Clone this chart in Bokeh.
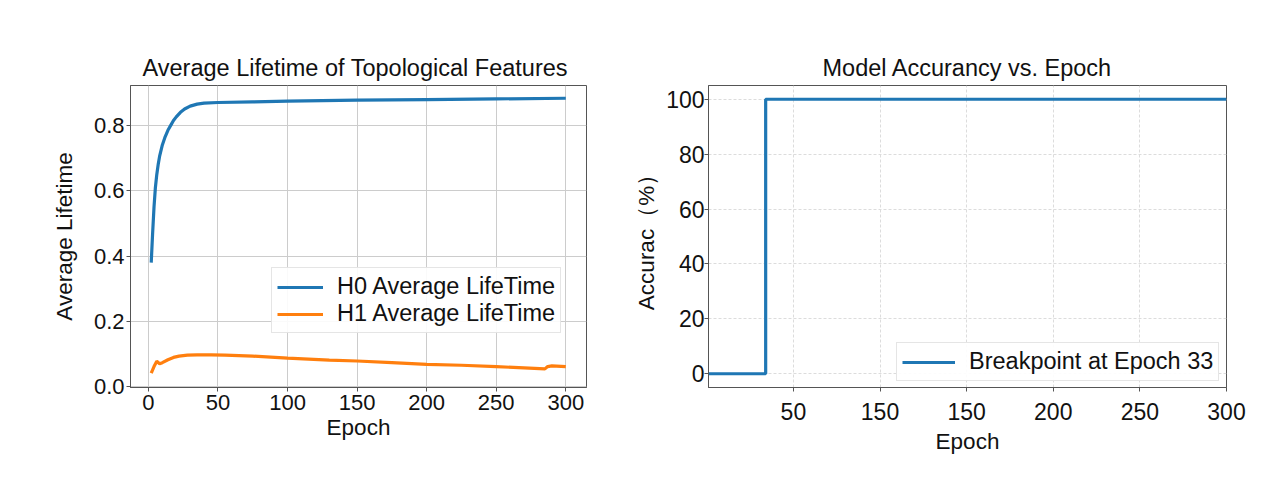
from bokeh.plotting import figure
from bokeh.layouts import row
from bokeh.models import Range1d, FixedTicker, Legend, LegendItem
from bokeh.embed import file_html
from bokeh.resources import INLINE

# ---------------- data ----------------
h0_epochs = [2, 3, 4, 5, 6, 7, 8, 10, 12, 14, 16, 18, 20, 23, 26, 30, 35, 40, 50, 75, 100, 150, 200, 250, 300]
h0_values = [0.38, 0.47, 0.55, 0.61, 0.65, 0.68, 0.705, 0.74, 0.765, 0.785, 0.80, 0.815, 0.826, 0.840, 0.850,
             0.859, 0.865, 0.868, 0.870, 0.872, 0.874, 0.877, 0.879, 0.881, 0.883]

h1_epochs = [2, 4, 6, 8, 10, 14, 18, 22, 28, 35, 45, 55, 75, 100, 130, 150, 175, 200, 225, 250, 270, 285, 287, 290, 300]
h1_values = [0.042, 0.062, 0.078, 0.071, 0.074, 0.083, 0.090, 0.094, 0.097, 0.098, 0.098, 0.097, 0.094, 0.088,
             0.082, 0.079, 0.074, 0.069, 0.066, 0.062, 0.058, 0.055, 0.062, 0.064, 0.062]

acc_epochs = [1, 33, 34, 300]
acc_values = [0, 0, 100, 100]

left_xticks = [0, 50, 100, 150, 200, 250, 300]
left_yticks = [0.0, 0.2, 0.4, 0.6, 0.8]
left_ytick_labels = ["0.0", "0.2", "0.4", "0.6", "0.8"]
right_xticks = [50, 100, 150, 200, 250, 300]
right_xtick_labels = ["50", "150", "150", "200", "250", "300"]
right_yticks = [0, 20, 40, 60, 80, 100]

FONT = "Liberation Sans"
BLUE = "#1f77b4"
ORANGE = "#ff7f0e"


def style(p, tick_size, grid_dash=None):
    p.title.align = "center"
    p.title.text_font = FONT
    p.title.text_font_size = "23.5px"
    p.title.text_font_style = "normal"
    p.title.text_color = "#111111"
    p.outline_line_color = "#555555"
    p.outline_line_width = 1
    for ax in (p.xaxis[0], p.yaxis[0]):
        ax.axis_line_color = "#555555"
        ax.major_tick_line_color = "#555555"
        ax.major_tick_in = 0
        ax.major_tick_out = 4
        ax.minor_tick_line_color = None
        ax.major_label_text_font = FONT
        ax.major_label_text_font_size = tick_size
        ax.major_label_text_color = "#111111"
        ax.axis_label_text_font = FONT
        ax.axis_label_text_font_size = "22.5px"
        ax.axis_label_text_font_style = "normal"
        ax.axis_label_text_color = "#111111"
    for g in (p.xgrid[0], p.ygrid[0]):
        g.grid_line_color = "#cccccc" if grid_dash is None else "#dcdcdc"
        g.grid_line_width = 1
        if grid_dash:
            g.grid_line_dash = grid_dash
    p.background_fill_color = "white"
    p.border_fill_color = "white"


def style_legend(leg):
    leg.label_text_font = FONT
    leg.label_text_font_size = "23.5px"
    leg.label_text_color = "#111111"
    leg.label_text_line_height = 0.9
    leg.glyph_height = 20
    leg.label_height = 20
    leg.label_standoff = 14
    leg.spacing = 0
    leg.padding = 5
    leg.margin = 0
    leg.border_line_color = "#cccccc"
    leg.border_line_width = 1
    leg.background_fill_alpha = 0.9


# ---------------- left plot ----------------
p1 = figure(width=612, height=476, x_range=Range1d(-12.9, 314.9), y_range=Range1d(-0.002, 0.922),
            output_backend="svg", toolbar_location=None,
            min_border_left=130, min_border_right=26, min_border_top=85, min_border_bottom=89,
            title="Average Lifetime of  Topological Features")
style(p1, "22px")
p1.xaxis.ticker = FixedTicker(ticks=left_xticks)
p1.yaxis.ticker = FixedTicker(ticks=left_yticks)
p1.yaxis.major_label_overrides = {t: l for t, l in zip(left_yticks, left_ytick_labels)}
p1.xaxis.axis_label = "Epoch"
p1.yaxis.axis_label = "Average Lifetime"
p1.xaxis.major_label_standoff = 3
p1.xaxis.axis_label_standoff = 2
p1.yaxis.major_label_standoff = 2
p1.yaxis.axis_label_standoff = 14

r0 = p1.line(h0_epochs, h0_values, line_color=BLUE, line_width=3.2)
r1 = p1.line(h1_epochs, h1_values, line_color=ORANGE, line_width=3.2)

leg1 = Legend(items=[LegendItem(label="H0 Average LifeTime", renderers=[r0]),
                     LegendItem(label="H1 Average LifeTime", renderers=[r1])],
              location=(141, 54))
style_legend(leg1)
leg1.glyph_width = 46
p1.add_layout(leg1)

# ---------------- right plot ----------------
p2 = figure(width=652, height=476, x_range=Range1d(1, 300), y_range=Range1d(-5, 105),
            output_backend="svg", toolbar_location=None,
            min_border_left=96, min_border_right=38, min_border_top=85, min_border_bottom=89,
            title="Model Accurancy vs. Epoch")
style(p2, "23px", grid_dash="3 2")
p2.xaxis.ticker = FixedTicker(ticks=right_xticks)
p2.xaxis.major_label_overrides = {t: l for t, l in zip(right_xticks, right_xtick_labels)}
p2.yaxis.ticker = FixedTicker(ticks=right_yticks)
p2.xaxis.axis_label = "Epoch"
p2.yaxis.axis_label = "Accurac（%）"
p2.xaxis.major_label_standoff = 11
p2.xaxis.axis_label_standoff = 6
p2.yaxis.major_label_standoff = 0
p2.yaxis.axis_label_standoff = 4

ra = p2.step(acc_epochs, acc_values, mode="after", line_color=BLUE, line_width=3.2)

leg2 = Legend(items=[LegendItem(label="Breakpoint at Epoch 33", renderers=[ra])], location=(188, 6))
style_legend(leg2)
leg2.glyph_width = 53
p2.add_layout(leg2)

layout = row(p1, p2)
open("out.html", "w").write(file_html(layout, INLINE))
